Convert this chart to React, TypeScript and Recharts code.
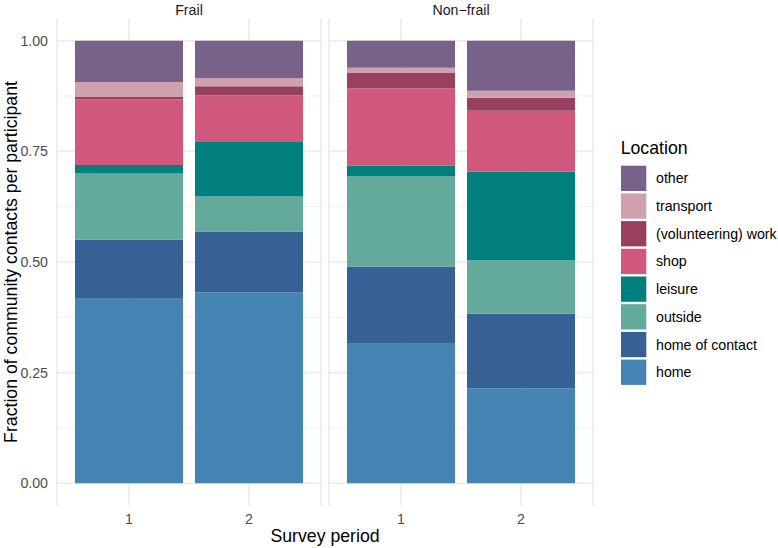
import React from "react";
import { BarChart, Bar, XAxis, YAxis, CartesianGrid } from "recharts";

const FONT = "'Liberation Sans', Arial, Helvetica, sans-serif";

// categories
const facets = ["Frail", "Non\u2212frail"];
const periods = ["1", "2"];

// series values, order: Frail p1, Frail p2, Non-frail p1, Non-frail p2
const home = [0.417, 0.431, 0.315, 0.215];
const homeOfContact = [0.133, 0.138, 0.175, 0.168];
const outside = [0.15, 0.079, 0.204, 0.121];
const leisure = [0.019, 0.125, 0.024, 0.2];
const shop = [0.148, 0.104, 0.174, 0.138];
const work = [0.006, 0.02, 0.035, 0.029];
const transport = [0.034, 0.018, 0.012, 0.016];
const other = [0.093, 0.085, 0.061, 0.113];

// y ticks
const yTicks = [0, 0.25, 0.5, 0.75, 1];
const yMinor = [0.125, 0.375, 0.625, 0.875];

// series (bottom to top)
const seriesKeys = ["home", "homeOfContact", "outside", "leisure", "shop", "work", "transport", "other"];
const seriesLabels = ["home", "home of contact", "outside", "leisure", "shop", "(volunteering) work", "transport", "other"];
const seriesColors = ["#4583B3", "#366194", "#63A99C", "#007F7F", "#CF587C", "#98405F", "#D0A0AC", "#79628A"];
const seriesValues = [home, homeOfContact, outside, leisure, shop, work, transport, other];

const buildData = (f: number) =>
  periods.map((p, i) => {
    const row: any = { period: p };
    seriesKeys.forEach((k, s) => {
      row[k] = seriesValues[s][f * 2 + i];
    });
    return row;
  });

const GRID = "#EBEBEB";
const TICK = { fontSize: 14.2, fill: "#4D4D4D", fontFamily: FONT };

function Panel({ f, showY }: { f: number; showY: boolean }) {
  const width = showY ? 330 : 280;
  const data = buildData(f);
  return (
    <BarChart
      width={width}
      height={548}
      data={data}
      margin={{ top: 18.6, bottom: 0, left: showY ? 0 : 9, right: showY ? 9 : 7 }}
    >
      <CartesianGrid
        horizontalValues={yMinor}
        vertical={false}
        stroke={GRID}
        strokeWidth={0.8}
      />
      <CartesianGrid
        horizontalValues={yTicks}
        stroke={GRID}
        strokeWidth={1.6}
      />
      <XAxis
        dataKey="period"
        height={42.6}
        padding={{ left: 12, right: 12 }}
        axisLine={false}
        tickLine={false}
        tickSize={6}
        tickMargin={3}
        tick={TICK}
      />
      <YAxis
        type="number"
        domain={[-0.05, 1.05]}
        allowDataOverflow
        ticks={yTicks}
        tickFormatter={(v: number) => v.toFixed(2)}
        axisLine={false}
        tickLine={false}
        tickSize={6}
        tickMargin={3}
        width={57}
        hide={!showY}
        tick={TICK}
      />
      {seriesKeys.map((k, s) => (
        <Bar
          key={k}
          dataKey={k}
          stackId="a"
          fill={seriesColors[s]}
          barSize={108}
          isAnimationActive={false}
        />
      ))}
    </BarChart>
  );
}

export default function App() {
  const legendOrder = seriesKeys.map((_, i) => seriesKeys.length - 1 - i);
  return (
    <div style={{ position: "absolute", left: 0, top: 0, width: 778, height: 548, background: "#fff", fontFamily: FONT }}>
      <div style={{ position: "absolute", left: 0, top: 0 }}>
        <Panel f={0} showY={true} />
      </div>
      <div style={{ position: "absolute", left: 320, top: 0 }}>
        <Panel f={1} showY={false} />
      </div>
      <svg
        width={778}
        height={548}
        style={{ position: "absolute", left: 0, top: 0, pointerEvents: "none" }}
        fontFamily={FONT}
      >
        <text x={189} y={15} textAnchor="middle" fontSize={14.2} fill="#1A1A1A">{facets[0]}</text>
        <text x={461} y={15} textAnchor="middle" fontSize={14.2} fill="#1A1A1A">{facets[1]}</text>
        <text x={325} y={542} textAnchor="middle" fontSize={17.7} fill="#000">Survey period</text>
        <text
          x={0}
          y={0}
          transform="translate(17,262) rotate(-90)"
          textAnchor="middle"
          fontSize={17.7}
          fill="#000"
        >
          Fraction of community contacts per participant
        </text>
        <text x={620.7} y={154.4} fontSize={17.7} fill="#000">Location</text>
        {legendOrder.map((s, i) => (
          <g key={seriesKeys[s]}>
            <rect x={621} y={165.7 + i * 27.7} width={25.3} height={25.3} fill={seriesColors[s]} />
            <text x={656} y={165.7 + i * 27.7 + 12.65} dy="0.35em" fontSize={14.2} fill="#000">
              {seriesLabels[s]}
            </text>
          </g>
        ))}
      </svg>
    </div>
  );
}
